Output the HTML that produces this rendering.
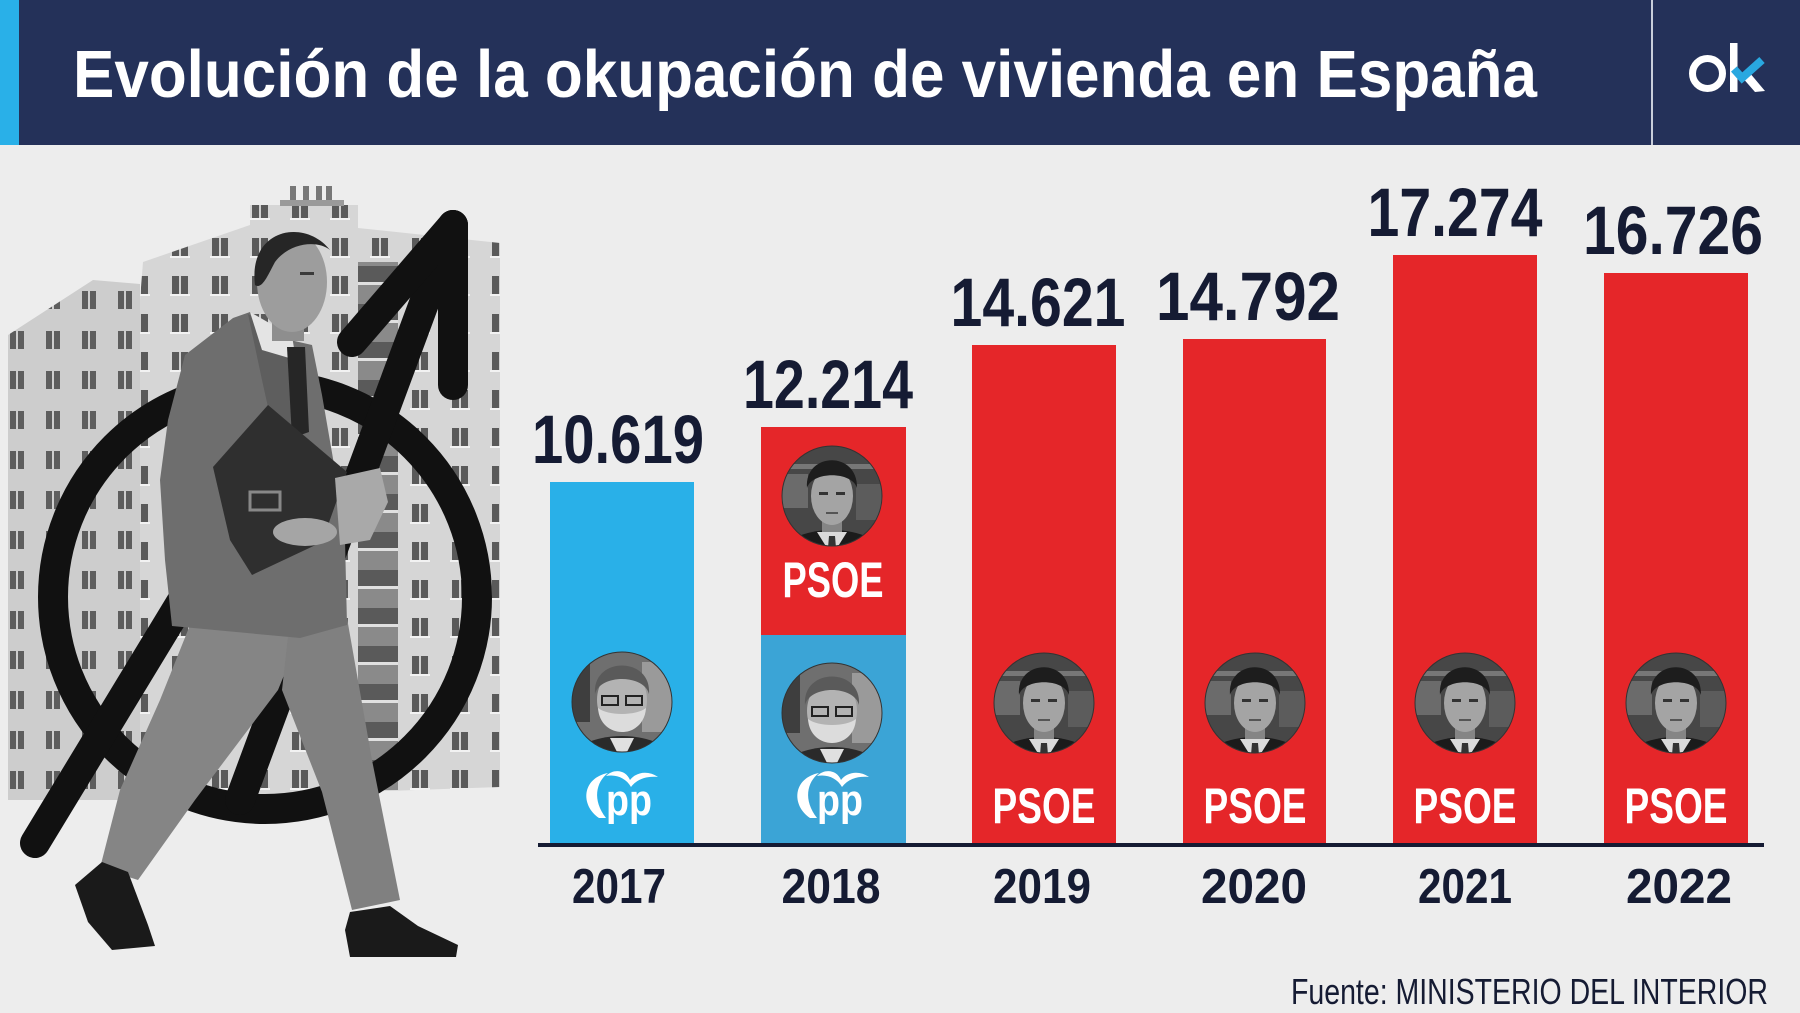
<!DOCTYPE html>
<html><head><meta charset="utf-8"><style>
html,body{margin:0;padding:0;background:#ededed;}
svg{display:block;}
</style></head><body>
<svg width="1800" height="1013" viewBox="0 0 1800 1013" xmlns="http://www.w3.org/2000/svg">
<defs>
  <clipPath id="c"><circle cx="0" cy="0" r="50"/></clipPath>
  <pattern id="win" patternUnits="userSpaceOnUse" width="40" height="38">
    <rect width="40" height="38" fill="#d6d6d6"/>
    <rect x="12" y="10" width="16" height="18" fill="#5a5a5a"/>
    <rect x="19" y="10" width="2" height="18" fill="#d0d0d0"/>
    <rect x="10" y="28" width="20" height="2" fill="#f2f2f2"/>
  </pattern>
  <pattern id="win2" patternUnits="userSpaceOnUse" width="36" height="40">
    <rect width="36" height="40" fill="#cdcdcd"/>
    <rect x="10" y="11" width="14" height="18" fill="#5e5e5e"/>
    <rect x="16" y="11" width="2" height="18" fill="#cfcfcf"/>
  </pattern>
  <pattern id="balc" patternUnits="userSpaceOnUse" width="40" height="38">
    <rect width="40" height="38" fill="#8a8a8a"/>
    <rect y="0" width="40" height="16" fill="#5a5a5a"/>
    <rect y="16" width="40" height="3" fill="#e0e0e0"/>
  </pattern>
  <g id="sz">
    <g clip-path="url(#c)">
      <rect x="-50" y="-50" width="100" height="100" fill="#474747"/>
      <rect x="-50" y="-22" width="26" height="34" fill="#6b6b6b"/>
      <rect x="24" y="-12" width="26" height="36" fill="#5c5c5c"/>
      <rect x="-50" y="-32" width="100" height="5" fill="#777"/>
      <ellipse cx="0" cy="60" rx="52" ry="26" fill="#1b1b1b"/>
      <rect x="-10" y="18" width="20" height="20" fill="#858585"/>
      <polygon points="-15,36 15,36 5,52 -5,52" fill="#dadada"/>
      <polygon points="-3,40 3,40 4,52 -4,52" fill="#333"/>
      <ellipse cx="0" cy="0" rx="21" ry="29" fill="#a4a4a4"/>
      <path d="M-25,-8 C-28,-44 26,-46 25,-8 C20,-25 -20,-25 -25,-8 Z" fill="#1d1d1d"/>
      <rect x="-13" y="-4" width="9" height="3" fill="#333"/>
      <rect x="4" y="-4" width="9" height="3" fill="#333"/>
      <rect x="-6" y="16" width="12" height="2" fill="#555"/>
    </g>
    <circle cx="0" cy="0" r="50" fill="none" stroke="#333" stroke-width="1"/>
  </g>
  <g id="rj">
    <g clip-path="url(#c)">
      <rect x="-50" y="-50" width="100" height="100" fill="#6f6f6f"/>
      <rect x="20" y="-40" width="30" height="70" fill="#9a9a9a"/>
      <rect x="-50" y="-40" width="18" height="60" fill="#3e3e3e"/>
      <ellipse cx="0" cy="60" rx="52" ry="26" fill="#2a2a2a"/>
      <polygon points="-12,36 12,36 4,52 -4,52" fill="#e0e0e0"/>
      <ellipse cx="0" cy="-2" rx="25" ry="31" fill="#b3b3b3"/>
      <path d="M-24,6 C-22,38 22,38 24,6 C14,14 -14,14 -24,6 Z" fill="#dcdcdc"/>
      <path d="M-27,-8 C-30,-46 30,-46 27,-8 C22,-28 -22,-28 -27,-8 Z" fill="#5a5a5a"/>
      <rect x="-20" y="-6" width="16" height="9" fill="none" stroke="#222" stroke-width="2"/>
      <rect x="4" y="-6" width="16" height="9" fill="none" stroke="#222" stroke-width="2"/>
    </g>
    <circle cx="0" cy="0" r="50" fill="none" stroke="#333" stroke-width="1"/>
  </g>
  <g id="pp" fill="#ffffff">
    <path d="M-21,18 C-40,5 -38,-22 -12,-27 C-24,-18 -28,0 -14,18 Z"/>
    <path d="M-14,-24 C-6,-32 6,-30 10,-20 C16,-28 28,-30 38,-23 C28,-24 18,-22 11,-13 C6,-22 -4,-26 -14,-24 Z"/>
    <text x="-14" y="15" font-family="Liberation Sans, sans-serif" font-weight="bold" font-size="44" textLength="46" lengthAdjust="spacingAndGlyphs">pp</text>
  </g>
</defs>

<!-- background -->
<rect width="1800" height="1013" fill="#ededed"/>

<!-- header -->
<rect x="0" y="0" width="1800" height="145" fill="#243159"/>
<rect x="0" y="0" width="19" height="145" fill="#29b0e8"/>
<rect x="1651" y="0" width="2" height="145" fill="#c9cedb"/>
<text x="73" y="97" font-family="Liberation Sans, sans-serif" font-weight="bold" font-size="67" fill="#ffffff" textLength="1464" lengthAdjust="spacingAndGlyphs">Evolución de la okupación de vivienda en España</text>
<!-- ok logo -->
<circle cx="1707.5" cy="73.5" r="15" fill="none" stroke="#ffffff" stroke-width="7"/>
<rect x="1730" y="43" width="7.5" height="49" fill="#ffffff"/>
<polygon points="1741,76 1749,72 1765,91 1755,92" fill="#ffffff"/>
<polyline points="1734,69 1742,78 1762,60" fill="none" stroke="#29a8e0" stroke-width="8" stroke-linejoin="miter"/>

<!-- building -->
<polygon points="8,335 93,280 140,284 140,800 8,800" fill="url(#win2)"/>
<polygon points="140,300 143,262 250,225 250,800 140,800" fill="url(#win)"/>
<rect x="250" y="205" width="108" height="595" fill="url(#win)"/>
<polygon points="358,228 500,243 500,787 358,792" fill="url(#win)"/>
<rect x="358" y="262" width="40" height="528" fill="url(#balc)"/>
<rect x="290" y="186" width="6" height="20" fill="#777"/>
<rect x="303" y="186" width="6" height="20" fill="#777"/>
<rect x="316" y="186" width="6" height="20" fill="#777"/>
<rect x="326" y="186" width="6" height="20" fill="#777"/>
<rect x="280" y="200" width="64" height="6" fill="#9a9a9a"/>

<!-- ring and arrow -->
<circle cx="265" cy="597" r="212" fill="none" stroke="#111" stroke-width="30"/>
<line x1="35" y1="843" x2="225" y2="530" stroke="#111" stroke-width="30" stroke-linecap="round"/>
<line x1="240" y1="800" x2="453" y2="225" stroke="#111" stroke-width="30" stroke-linecap="round"/>
<line x1="453" y1="225" x2="352" y2="342" stroke="#111" stroke-width="30" stroke-linecap="round"/>
<line x1="453" y1="225" x2="453" y2="385" stroke="#111" stroke-width="30" stroke-linecap="round"/>

<!-- man -->
<polygon points="190,625 300,636 278,690 195,800 138,880 100,868 120,790 160,700" fill="#858585"/>
<polygon points="288,636 347,618 372,760 400,900 352,910 322,792 282,690" fill="#808080"/>
<polygon points="233,318 250,312 290,340 312,345 322,395 335,470 345,540 347,625 300,638 172,626 165,560 160,480 168,420 185,355" fill="#6e6e6e"/>
<polygon points="248,314 290,340 300,420 282,470 262,380" fill="#5e5e5e"/>
<polygon points="250,312 292,336 296,360 262,350" fill="#e4e4e4"/>
<polygon points="287,347 305,347 309,432 292,438" fill="#262626"/>
<rect x="272" y="305" width="32" height="36" fill="#8e8e8e"/>
<ellipse cx="292" cy="282" rx="35" ry="50" fill="#9d9d9d"/>
<path d="M255,285 C248,228 305,218 330,250 C318,240 290,242 275,262 C268,275 262,290 255,285 Z" fill="#262626"/>
<rect x="300" y="272" width="14" height="3" fill="#3a3a3a"/>
<polygon points="213,467 268,405 347,472 322,542 252,575 230,540" fill="#2f2f2f"/>
<rect x="250" y="492" width="30" height="18" fill="none" stroke="#888" stroke-width="3"/>
<polygon points="335,478 380,468 388,502 370,540 340,545" fill="#a9a9a9"/>
<ellipse cx="305" cy="532" rx="32" ry="14" fill="#a5a5a5"/>
<polygon points="75,885 102,862 128,872 148,925 155,946 112,950 88,922" fill="#1a1a1a"/>
<polygon points="350,912 390,906 418,926 458,945 456,957 350,957 345,930" fill="#1a1a1a"/>

<!-- bars -->
<rect x="550" y="482" width="144" height="361" fill="#29b0e8"/>
<rect x="761" y="427" width="145" height="208" fill="#e52629"/>
<rect x="761" y="635" width="145" height="208" fill="#3ba4d6"/>
<rect x="972" y="345" width="144" height="498" fill="#e52629"/>
<rect x="1183" y="339" width="143" height="504" fill="#e52629"/>
<rect x="1393" y="255" width="144" height="588" fill="#e52629"/>
<rect x="1604" y="273" width="144" height="570" fill="#e52629"/>

<!-- axis -->
<rect x="538" y="843" width="1226" height="4" fill="#151b33"/>

<!-- portraits -->
<use href="#rj" x="622" y="702"/>
<use href="#sz" x="832" y="496"/>
<use href="#rj" x="832" y="713"/>
<use href="#sz" x="1044" y="703"/>
<use href="#sz" x="1255" y="703"/>
<use href="#sz" x="1465" y="703"/>
<use href="#sz" x="1676" y="703"/>

<!-- party logos -->
<use href="#pp" x="620" y="800"/>
<use href="#pp" x="831" y="800"/>
<g font-family="Liberation Sans, sans-serif" font-weight="bold" font-size="50" fill="#ffffff" text-anchor="middle">
  <text x="833" y="597" textLength="101" lengthAdjust="spacingAndGlyphs">PSOE</text>
  <text x="1044" y="823" textLength="103" lengthAdjust="spacingAndGlyphs">PSOE</text>
  <text x="1255" y="823" textLength="103" lengthAdjust="spacingAndGlyphs">PSOE</text>
  <text x="1465" y="823" textLength="103" lengthAdjust="spacingAndGlyphs">PSOE</text>
  <text x="1676" y="823" textLength="103" lengthAdjust="spacingAndGlyphs">PSOE</text>
</g>

<!-- value labels -->
<g font-family="Liberation Sans, sans-serif" font-weight="bold" font-size="69" fill="#151b33" text-anchor="middle">
  <text x="618" y="463" textLength="172" lengthAdjust="spacingAndGlyphs">10.619</text>
  <text x="828" y="408" textLength="170" lengthAdjust="spacingAndGlyphs">12.214</text>
  <text x="1038" y="326" textLength="175" lengthAdjust="spacingAndGlyphs">14.621</text>
  <text x="1248" y="320" textLength="184" lengthAdjust="spacingAndGlyphs">14.792</text>
  <text x="1455" y="236" textLength="175" lengthAdjust="spacingAndGlyphs">17.274</text>
  <text x="1673" y="254" textLength="180" lengthAdjust="spacingAndGlyphs">16.726</text>
</g>

<!-- years -->
<g font-family="Liberation Sans, sans-serif" font-weight="bold" font-size="49" fill="#151b33" text-anchor="middle">
  <text x="619" y="903" textLength="94" lengthAdjust="spacingAndGlyphs">2017</text>
  <text x="831" y="903" textLength="99" lengthAdjust="spacingAndGlyphs">2018</text>
  <text x="1042" y="903" textLength="98" lengthAdjust="spacingAndGlyphs">2019</text>
  <text x="1254" y="903" textLength="106" lengthAdjust="spacingAndGlyphs">2020</text>
  <text x="1465" y="903" textLength="94" lengthAdjust="spacingAndGlyphs">2021</text>
  <text x="1679" y="903" textLength="106" lengthAdjust="spacingAndGlyphs">2022</text>
</g>

<!-- source -->
<text x="1291" y="1004" font-family="Liberation Sans, sans-serif" font-size="36" fill="#151b33" textLength="477" lengthAdjust="spacingAndGlyphs">Fuente: MINISTERIO DEL INTERIOR</text>
</svg>
</body></html>
